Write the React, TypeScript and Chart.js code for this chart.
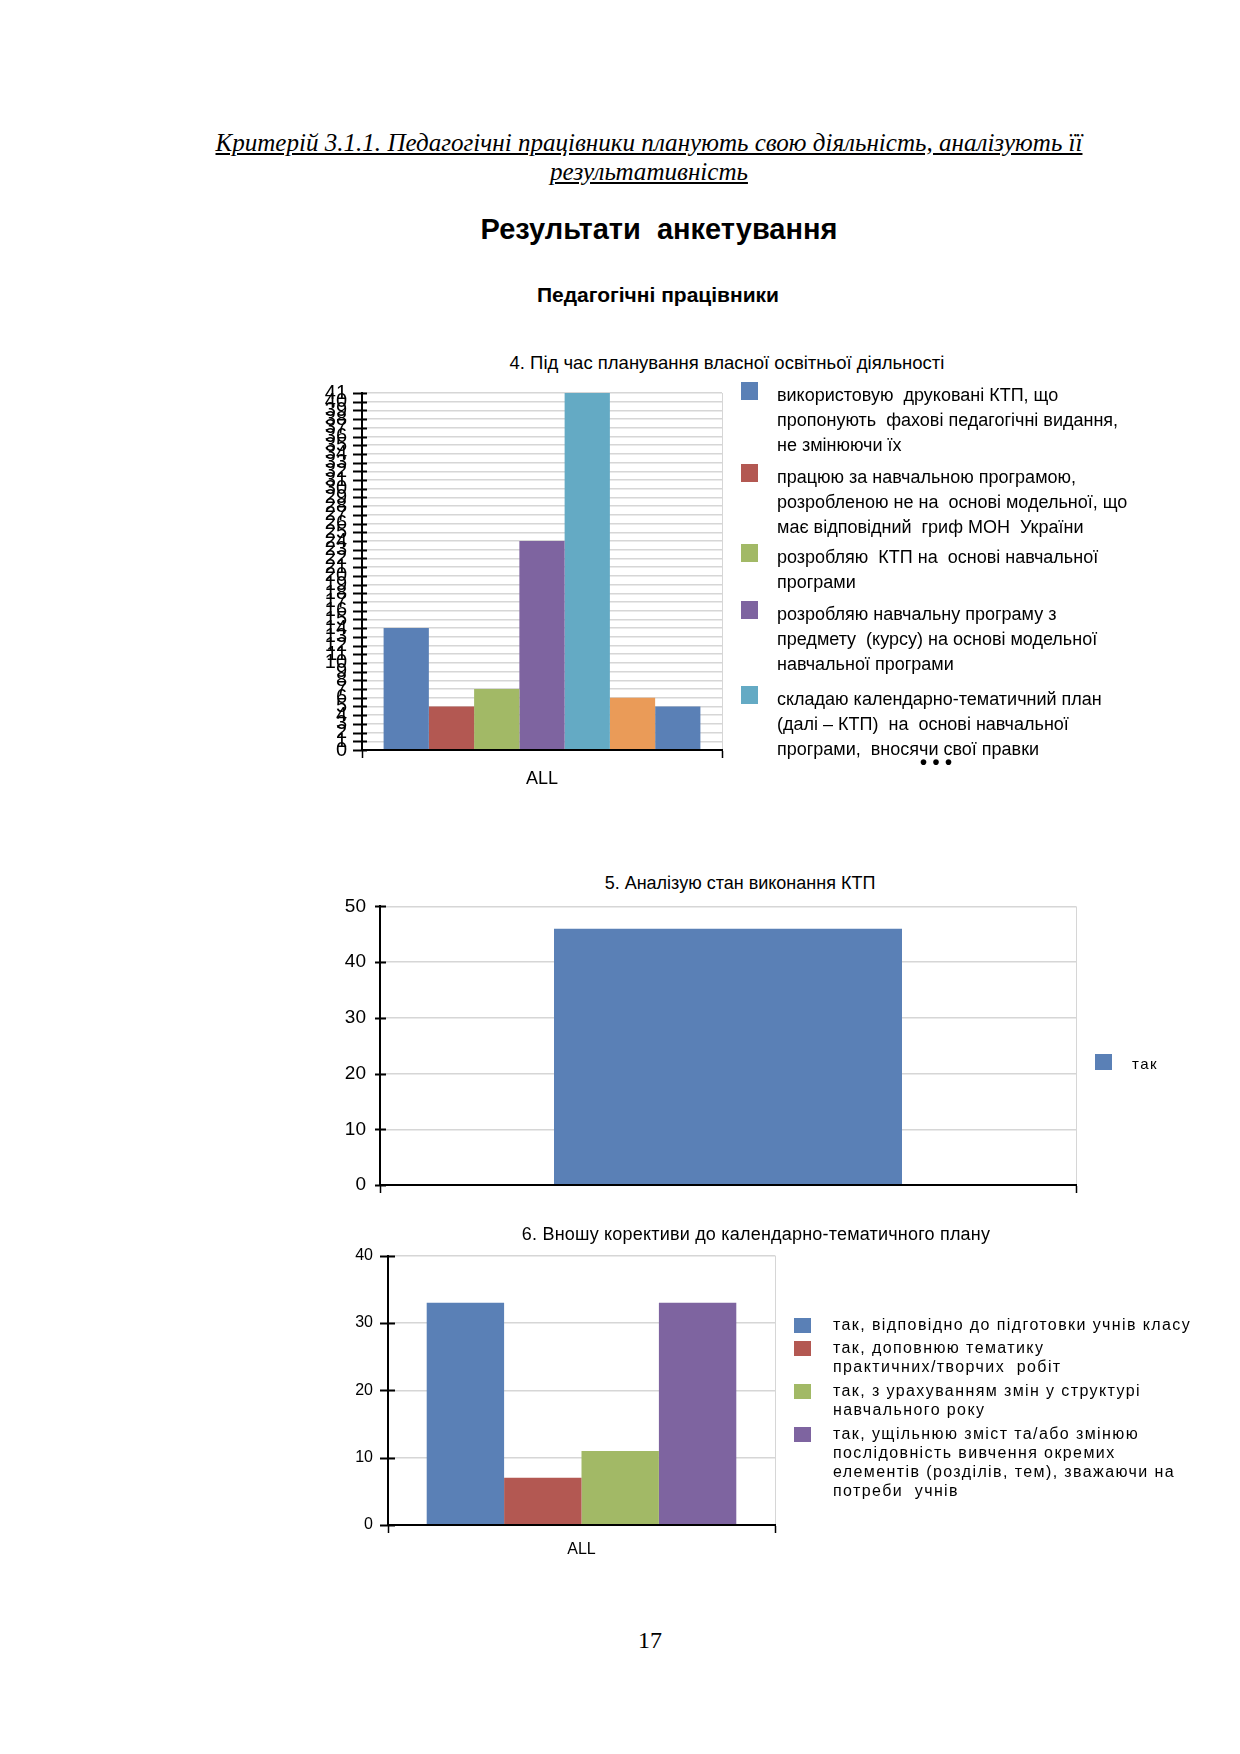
import React, { useEffect, useRef } from "react";
import { Chart, registerables } from "chart.js";

Chart.register(...registerables);

// ---------- data ----------
const q4Categories = ["ALL"];
const q4Values = [14, 5, 7, 24, 41, 6, 5];
const q4YTicks = [0, 1, 2, 3, 4, 5, 6, 7, 8, 9, 10, 11, 12, 13, 14, 15, 16, 17, 18, 19, 20, 21, 22, 23, 24, 25, 26, 27, 28, 29, 30, 31, 32, 33, 34, 35, 36, 37, 38, 39, 40, 41];
const q4Legend = [
  ["використовую  друковані КТП, що", "пропонують  фахові педагогічні видання,", "не змінюючи їх"],
  ["працюю за навчальною програмою,", "розробленою не на  основі модельної, що", "має відповідний  гриф МОН  України"],
  ["розробляю  КТП на  основі навчальної", "програми"],
  ["розробляю навчальну програму з", "предмету  (курсу) на основі модельної", "навчальної програми"],
  ["складаю календарно-тематичний план", "(далі – КТП)  на  основі навчальної", "програми,  вносячи свої правки"],
];
const q4SeriesNames = [
  "використовую друковані КТП, що пропонують фахові педагогічні видання, не змінюючи їх",
  "працюю за навчальною програмою, розробленою не на основі модельної, що має відповідний гриф МОН України",
  "розробляю КТП на основі навчальної програми",
  "розробляю навчальну програму з предмету (курсу) на основі модельної навчальної програми",
  "складаю календарно-тематичний план (далі – КТП) на основі навчальної програми, вносячи свої правки",
  "",
  "",
];

const q5Categories = [""];
const q5Values = [46];
const q5YTicks = [0, 10, 20, 30, 40, 50];
const q5SeriesNames = ["так"];

const q6Categories = ["ALL"];
const q6Values = [33, 7, 11, 33];
const q6YTicks = [0, 10, 20, 30, 40];
const q6Legend = [
  ["так, відповідно до підготовки учнів класу"],
  ["так, доповнюю тематику", "практичних/творчих  робіт"],
  ["так, з урахуванням змін у структурі", "навчального року"],
  ["так, ущільнюю зміст та/або змінюю", "послідовність вивчення окремих", "елементів (розділів, тем), зважаючи на", "потреби  учнів"],
];
const q6SeriesNames = q6Legend.map((l) => l.join(" "));

// ---------- styles ----------
const PALETTE = ["#5A80B6", "#B35852", "#A2B966", "#7E64A0", "#64AAC4", "#EA9B58", "#5A80B6"];
const SANS = "'Liberation Sans', Arial, sans-serif";
const SERIF = "'Liberation Serif', 'Times New Roman', serif";
const GRID = "#d6d6d6";

const crossTicks = {
  id: "crossTicks",
  afterDraw(chart: any, _args: any, opts: any) {
    const y = chart.scales.y;
    const ctx = chart.ctx;
    const x0 = chart.chartArea.left;
    ctx.save();
    ctx.strokeStyle = "#000";
    ctx.lineWidth = opts.width || 2;
    y.ticks.forEach((_t: any, i: number) => {
      const py = Math.round(y.getPixelForTick(i)) + 0.5;
      ctx.beginPath();
      ctx.moveTo(x0 - opts.left, py);
      ctx.lineTo(x0 + opts.right, py);
      ctx.stroke();
    });
    ctx.restore();
  },
};

type Cfg = {
  categories: string[];
  names: string[];
  values: number[];
  yTicks: number[];
  catPct: number;
  tickSize: number;
  xSize: number;
  yPad: number;
  xPad: number;
  xHeight: number;
  cross: { left: number; right: number; width: number };
};

type Box = { left: number; plotLeft: number; plotRight: number; plotTop: number; plotBottom: number };

function makeConfig(c: Cfg, yWidth: number, rightPad: number): any {
  return {
    type: "bar",
    data: {
      labels: c.categories,
      datasets: c.values.map((v, i) => ({
        label: c.names[i],
        data: [v],
        backgroundColor: PALETTE[i % PALETTE.length],
        borderWidth: 0,
        categoryPercentage: c.catPct,
        barPercentage: 1,
      })),
    },
    options: {
      responsive: false,
      animation: false,
      devicePixelRatio: 1,
      layout: { padding: { top: 0, right: rightPad, bottom: 0, left: 0 } },
      plugins: {
        legend: { display: false },
        title: { display: false },
        tooltip: { enabled: false },
        crossTicks: c.cross,
      },
      scales: {
        x: {
          offset: true,
          grid: {
            display: true,
            drawOnChartArea: true,
            color: GRID,
            lineWidth: 1,
            tickColor: "#000",
            tickLength: 8,
            tickWidth: 1.5,
            z: -1,
          },
          border: { display: true, color: "#000", width: 2, z: 1 },
          ticks: { color: "#000", font: { family: SANS, size: c.xSize }, padding: c.xPad },
          afterFit: (s: any) => {
            s.height = c.xHeight;
          },
        },
        y: {
          min: c.yTicks[0],
          max: c.yTicks[c.yTicks.length - 1],
          afterBuildTicks: (s: any) => {
            s.ticks = c.yTicks.map((v) => ({ value: v }));
          },
          grid: { color: GRID, lineWidth: 1.5, drawTicks: false, z: -1 },
          border: { display: true, color: "#000", width: 2, z: 1 },
          ticks: { color: "#000", font: { family: SANS, size: c.tickSize }, padding: c.yPad, autoSkip: false },
          afterFit: (s: any) => {
            s.width = yWidth;
          },
        },
      },
    },
    plugins: [crossTicks],
  };
}

function BarCanvas(p: { box: Box; cfg: Cfg }) {
  const ref = useRef<HTMLCanvasElement>(null);
  const b = p.box;
  const rightPad = 20;
  const top = Math.round(b.plotTop - (p.cfg.tickSize * 0.6 + p.cfg.yPad));
  const width = b.plotRight - b.left + rightPad;
  const height = b.plotBottom - top + p.cfg.xHeight;
  useEffect(() => {
    const chart = new Chart(ref.current as HTMLCanvasElement, makeConfig(p.cfg, b.plotLeft - b.left, rightPad));
    return () => chart.destroy();
  }, []);
  return (
    <canvas
      ref={ref}
      width={width}
      height={height}
      style={{ position: "absolute", left: b.left, top, width, height }}
    />
  );
}

function T(p: {
  x: number;
  y: number;
  size: number;
  family?: string;
  weight?: any;
  italic?: boolean;
  center?: boolean;
  lh?: number;
  sx?: number;
  ls?: number;
  underline?: boolean;
  children: any;
}) {
  const lh = p.lh ?? Math.round(p.size * 1.2);
  const parts: string[] = [];
  if (p.center) parts.push("translateX(-50%)");
  if (p.sx) parts.push(`scaleX(${p.sx})`);
  return (
    <div
      style={{
        position: "absolute",
        left: p.x,
        top: p.y - lh / 2,
        fontSize: p.size,
        lineHeight: lh + "px",
        fontFamily: p.family ?? SANS,
        fontWeight: p.weight ?? "normal",
        fontStyle: p.italic ? "italic" : "normal",
        whiteSpace: "pre",
        transform: parts.length ? parts.join(" ") : undefined,
        transformOrigin: p.center ? "center" : "left",
        letterSpacing: p.ls,
        textDecoration: p.underline ? "underline" : undefined,
        color: "#000",
      }}
    >
      {p.children}
    </div>
  );
}

function Sq(p: { x: number; y: number; w: number; h: number; color: string }) {
  return <div style={{ position: "absolute", left: p.x, top: p.y, width: p.w, height: p.h, background: p.color }} />;
}

export default function App() {
  const q4LegendY = [395, 477, 557, 614, 699];
  const q6LegendY = [1324, 1347, 1390, 1433];
  return (
    <div style={{ position: "absolute", left: 0, top: 0, width: 1240, height: 1754, background: "#fff", overflow: "hidden" }}>
      <T x={649} y={142} size={26} family={SERIF} italic center underline lh={29} sx={0.964}>
        Критерій 3.1.1. Педагогічні працівники планують свою діяльність, аналізують її
      </T>
      <T x={649} y={171} size={26} family={SERIF} italic center underline lh={29} sx={0.964}>
        результативність
      </T>
      <T x={659} y={229} size={29} weight="bold" center>
        Результати  анкетування
      </T>
      <T x={658} y={294} size={21} weight="bold" center>
        Педагогічні працівники
      </T>

      {/* Chart 4 */}
      <T x={727} y={363} size={18.5} center>
        4. Під час планування власної освітньої діяльності
      </T>
      <BarCanvas
        box={{ left: 290, plotLeft: 362, plotRight: 722, plotTop: 393, plotBottom: 750 }}
        cfg={{
          categories: q4Categories,
          names: q4SeriesNames,
          values: q4Values,
          yTicks: q4YTicks,
          catPct: 0.88,
          tickSize: 20,
          xSize: 18,
          yPad: 15,
          xPad: 10,
          xHeight: 50,
          cross: { left: 9, right: 5, width: 2 },
        }}
      />
      {q4Legend.map((lines, i) => (
        <React.Fragment key={i}>
          <Sq x={741} y={q4LegendY[i] - 13} w={17} h={18} color={PALETTE[i]} />
          <T x={777} y={q4LegendY[i]} size={18} lh={25}>
            {lines.join("\n")}
          </T>
        </React.Fragment>
      ))}
      <T x={936} y={762} size={20} center weight="bold">
        • • •
      </T>

      {/* Chart 5 */}
      <T x={740} y={883} size={18} center>
        5. Аналізую стан виконання КТП
      </T>
      <BarCanvas
        box={{ left: 300, plotLeft: 380, plotRight: 1076, plotTop: 906, plotBottom: 1185 }}
        cfg={{
          categories: q5Categories,
          names: q5SeriesNames,
          values: q5Values,
          yTicks: q5YTicks,
          catPct: 0.5,
          tickSize: 19,
          xSize: 18,
          yPad: 14,
          xPad: 8,
          xHeight: 40,
          cross: { left: 5, right: 6, width: 2 },
        }}
      />
      <Sq x={1095} y={1054} w={17} h={16} color={PALETTE[0]} />
      <T x={1132} y={1064} size={15} ls={1.5}>
        {q5SeriesNames[0]}
      </T>

      {/* Chart 6 */}
      <T x={756} y={1234} size={18} center ls={0.2}>
        6. Вношу корективи до календарно-тематичного плану
      </T>
      <BarCanvas
        box={{ left: 320, plotLeft: 388, plotRight: 775, plotTop: 1256, plotBottom: 1525 }}
        cfg={{
          categories: q6Categories,
          names: q6SeriesNames,
          values: q6Values,
          yTicks: q6YTicks,
          catPct: 0.8,
          tickSize: 16,
          xSize: 16,
          yPad: 15,
          xPad: 7,
          xHeight: 49,
          cross: { left: 8, right: 7, width: 2 },
        }}
      />
      {q6Legend.map((lines, i) => (
        <React.Fragment key={i}>
          <Sq x={794} y={q6LegendY[i] - 6} w={17} h={15} color={PALETTE[i]} />
          <T x={833} y={q6LegendY[i]} size={16} lh={19} ls={1.4}>
            {lines.join("\n")}
          </T>
        </React.Fragment>
      ))}

      <T x={650} y={1640} size={24} family={SERIF} center>
        17
      </T>
    </div>
  );
}
